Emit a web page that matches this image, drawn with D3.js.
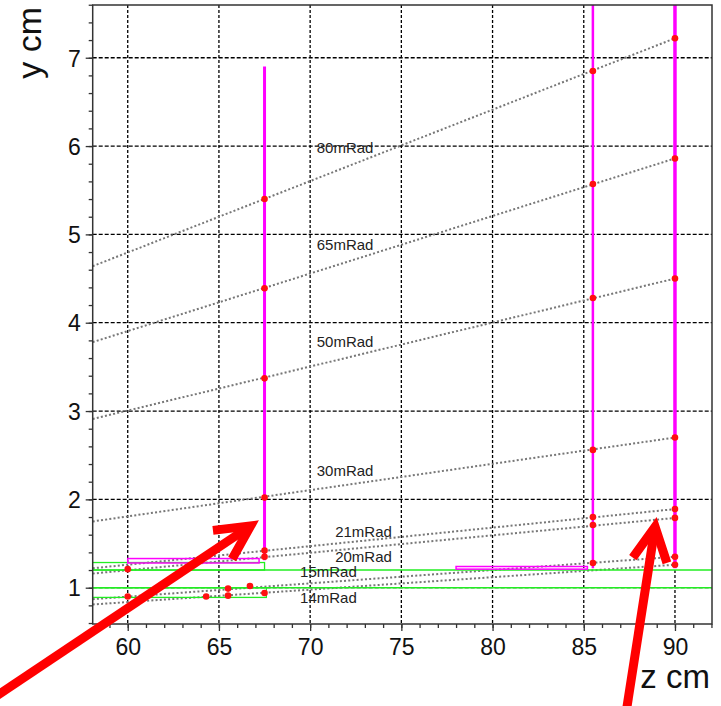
<!DOCTYPE html>
<html>
<head>
<meta charset="utf-8">
<script src="https://cdn.jsdelivr.net/npm/d3@7"></script>
<style>
  body { margin: 0; background: #fff; }
  svg { font-family: "Liberation Sans", Arial, sans-serif; }
</style>
</head>
<body>
<div id="graph"></div>
<script>
// axis ticks
const zTicks = [60, 65, 70, 75, 80, 85, 90];
const yTicks = [1, 2, 3, 4, 5, 6, 7];

// rays (dotted lines), y read at the left frame edge and at z = 90
const rayNames = ["80mRad", "65mRad", "50mRad", "30mRad", "21mRad", "20mRad", "15mRad", "14mRad"];
const rayYLeft = [4.64, 3.78, 2.91, 1.75, 1.22, 1.16, 0.87, 0.81];
const rayYRight = [7.22, 5.86, 4.50, 2.70, 1.89, 1.79, 1.35, 1.26];
const rayZ = [58.08, 90];

// where the ray labels sit (data coords)
const labelZ = [70.36, 70.36, 70.36, 70.36, 71.37, 71.37, 69.45, 69.45];
const labelY = [5.92, 4.82, 3.72, 2.27, 1.57, 1.29, 1.12, 0.83];

// magenta detector planes (vertical)
const detZ = [67.5, 85.5, 90];
const detYLow = [1.31, 1.22, 1.22];
const detYHigh = [6.9, 7.8, 7.8];

// magenta horizontal boxes: z0, z1, y0, y1
const boxZ0 = [60, 78];
const boxZ1 = [67.2, 85.2];
const boxY0 = [1.28, 1.21];
const boxY1 = [1.33, 1.24];

// green lines and boxes
const greenLineY = [1.2, 1.0];
const greenBoxZ0 = [57, 57];
const greenBoxZ1 = [67.5, 67.6];
const greenBoxY0 = [1.2, 0.89];
const greenBoxY1 = [1.285, 1.0];

// red hit points
const hitZ = [67.5, 67.5, 67.5, 67.5, 67.5, 67.5, 67.5,
              85.5, 85.5, 85.5, 85.5, 85.5, 85.5, 85.5,
              90, 90, 90, 90, 90, 90, 90, 90,
              60, 60, 64.3, 65.5, 65.5, 66.7];
const hitY = [5.40, 4.39, 3.37, 2.02, 1.42, 1.35, 0.94,
              6.85, 5.57, 4.28, 2.56, 1.80, 1.71, 1.28,
              7.22, 5.86, 4.50, 2.70, 1.89, 1.79, 1.35, 1.26,
              1.21, 0.90, 0.90, 0.99, 0.91, 1.02];

// red annotation arrows: tail and tip (data coords)
const arrowTailZ = [52.2, 87.3];
const arrowTailY = [-0.31, -0.44];
const arrowTipZ = [66.74, 88.91];
const arrowTipY = [1.70, 1.69];

const width = 721, height = 706;
const frame = {left: 92.7, right: 712, top: 5, bottom: 624};

let svg = d3.select("#graph")
    .append("svg")
    .attr("width", width)
    .attr("height", height);

let x = d3.scaleLinear()
    .domain([58.08, 92.03])
    .range([frame.left, frame.right]);

let y = d3.scaleLinear()
    .domain([0.589, 7.597])
    .range([frame.bottom, frame.top]);

svg.append("defs").append("clipPath")
    .attr("id", "clip")
    .append("rect")
    .attr("x", frame.left)
    .attr("y", frame.top)
    .attr("width", frame.right - frame.left)
    .attr("height", frame.bottom - frame.top);

// grid
let grid = svg.append("g");
grid.selectAll(".vg")
    .data(zTicks)
    .enter().append("line")
    .attr("x1", d => x(d)).attr("x2", d => x(d))
    .attr("y1", frame.top).attr("y2", frame.bottom)
    .attr("stroke", "#000")
    .attr("stroke-width", 1.3)
    .attr("stroke-dasharray", "3,2");
grid.selectAll(".hg")
    .data(yTicks)
    .enter().append("line")
    .attr("x1", frame.left).attr("x2", frame.right)
    .attr("y1", d => y(d)).attr("y2", d => y(d))
    .attr("stroke", "#000")
    .attr("stroke-width", 1.3)
    .attr("stroke-dasharray", "4,2");

let plot = svg.append("g").attr("clip-path", "url(#clip)");

// rays
rayNames.forEach(function(name, i) {
    plot.append("line")
        .attr("x1", x(rayZ[0])).attr("y1", y(rayYLeft[i]))
        .attr("x2", x(rayZ[1])).attr("y2", y(rayYRight[i]))
        .attr("stroke", "#777")
        .attr("stroke-width", 2)
        .attr("stroke-dasharray", "2,2.2");
});

// green lines
greenLineY.forEach(function(v) {
    plot.append("line")
        .attr("x1", frame.left).attr("x2", frame.right)
        .attr("y1", y(v)).attr("y2", y(v))
        .attr("stroke", "#22ee22")
        .attr("stroke-width", 1.5);
});
greenBoxZ0.forEach(function(z0, i) {
    plot.append("rect")
        .attr("x", x(z0))
        .attr("y", y(greenBoxY1[i]))
        .attr("width", x(greenBoxZ1[i]) - x(z0))
        .attr("height", y(greenBoxY0[i]) - y(greenBoxY1[i]))
        .attr("fill", "none")
        .attr("stroke", "#22ee22")
        .attr("stroke-width", 1.3);
});

// magenta boxes
boxZ0.forEach(function(z0, i) {
    plot.append("rect")
        .attr("x", x(z0))
        .attr("y", y(boxY1[i]))
        .attr("width", x(boxZ1[i]) - x(z0))
        .attr("height", y(boxY0[i]) - y(boxY1[i]))
        .attr("fill", "none")
        .attr("stroke", "#ff00ff")
        .attr("stroke-width", 1.5);
});

// magenta detector lines
let detWidth = [3, 2.5, 3.5];
detZ.forEach(function(z, i) {
    plot.append("line")
        .attr("x1", x(z)).attr("x2", x(z))
        .attr("y1", y(detYLow[i])).attr("y2", y(detYHigh[i]))
        .attr("stroke", "#ff00ff")
        .attr("stroke-width", detWidth[i]);
});

// red hits
plot.selectAll(".hit")
    .data(hitZ)
    .enter().append("circle")
    .attr("cx", d => x(d))
    .attr("cy", (d, i) => y(hitY[i]))
    .attr("r", 3.3)
    .attr("fill", "#ff1010");

// ray labels
rayNames.forEach(function(name, i) {
    svg.append("text")
        .attr("x", x(labelZ[i]))
        .attr("y", y(labelY[i]))
        .style("font-size", "15px")
        .style("fill", "#222")
        .text(name);
});

// frame
svg.append("rect")
    .attr("x", frame.left).attr("y", frame.top)
    .attr("width", frame.right - frame.left)
    .attr("height", frame.bottom - frame.top)
    .attr("fill", "none")
    .attr("stroke", "#333")
    .attr("stroke-width", 1.5);

// axes
let xAxis = d3.axisBottom(x).tickValues(zTicks).tickFormat(d3.format("d")).tickSize(7).tickPadding(8);
let xMinor = d3.axisBottom(x).tickValues(d3.range(59, 93, 1)).tickSize(4).tickFormat("");
let yAxis = d3.axisLeft(y).tickValues(yTicks).tickFormat(d3.format("d")).tickSize(7).tickPadding(5);
let yMinor = d3.axisLeft(y).tickValues(d3.range(0.6, 7.61, 0.2)).tickSize(4).tickFormat("");

function styleAxis(g) {
    g.select(".domain").remove();
    g.selectAll("line").attr("stroke", "#333").attr("stroke-width", 1.3);
    g.selectAll("text")
        .style("font-size", "23px")
        .style("font-family", "'Liberation Sans', Arial, sans-serif")
        .attr("fill", "#111");
}

svg.append("g").attr("transform", `translate(0, ${frame.bottom})`).call(xMinor).call(styleAxis);
svg.append("g").attr("transform", `translate(0, ${frame.bottom})`).call(xAxis).call(styleAxis);
svg.append("g").attr("transform", `translate(${frame.left}, 0)`).call(yMinor).call(styleAxis);
svg.append("g").attr("transform", `translate(${frame.left}, 0)`).call(yAxis).call(styleAxis)
    .selectAll("text").attr("dy", "0.36em");

// axis titles
svg.append("text")
    .attr("transform", `translate(41, 7) rotate(-90)`)
    .style("text-anchor", "end")
    .style("font-size", "34px")
    .attr("fill", "#111")
    .text("y cm");

svg.append("text")
    .attr("x", 710)
    .attr("y", 688)
    .style("text-anchor", "end")
    .style("font-size", "33px")
    .attr("fill", "#111")
    .text("z cm");

// red arrows
let headLen = 38, headAng = 27 * Math.PI / 180;
arrowTipZ.forEach(function(tz, i) {
    let x0 = x(arrowTailZ[i]), y0 = y(arrowTailY[i]);
    let x1 = x(tz), y1 = y(arrowTipY[i]);
    let back = Math.atan2(y0 - y1, x0 - x1);
    svg.append("line")
        .attr("x1", x0).attr("y1", y0)
        .attr("x2", x1).attr("y2", y1)
        .attr("stroke", "#ff0000")
        .attr("stroke-width", 9);
    let a1 = [x1 + headLen * Math.cos(back + headAng), y1 + headLen * Math.sin(back + headAng)];
    let a2 = [x1 + headLen * Math.cos(back - headAng), y1 + headLen * Math.sin(back - headAng)];
    svg.append("path")
        .attr("d", `M${a1[0]},${a1[1]}L${x1},${y1}L${a2[0]},${a2[1]}`)
        .attr("fill", "none")
        .attr("stroke", "#ff0000")
        .attr("stroke-width", 9)
        .attr("stroke-linejoin", "miter");
});
</script>
</body>
</html>
